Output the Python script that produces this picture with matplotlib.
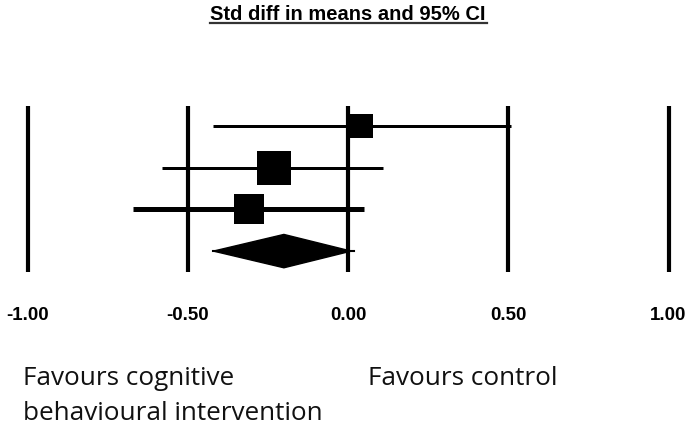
import matplotlib.pyplot as plt
import matplotlib.transforms as mtransforms
from matplotlib.patches import Polygon

# study rows (top to bottom)
estimates = [0.04, -0.23, -0.31]
ci_low = [-0.42, -0.58, -0.67]
ci_high = [0.51, 0.11, 0.05]
weights = [24, 34, 30]          # relative box size
ci_widths = [3, 3, 5]

# pooled estimate
pooled_est = -0.20
pooled_low = -0.42
pooled_high = 0.02

ticks = [-1.00, -0.50, 0.00, 0.50, 1.00]
tick_labels = ["-1.00", "-0.50", "0.00", "0.50", "1.00"]

title = "Std diff in means and 95% CI"
left_label = ["Favours cognitive", "behavioural intervention"]
right_label = "Favours control"

W, H = 691, 426
fig = plt.figure(figsize=(W / 100, H / 100), dpi=100)
ax = fig.add_axes([0, 0, 1, 1])
ax.set_xlim(-348 / 320.5, (W - 348) / 320.5)
ax.set_ylim((H - 126) / 41.7, -126 / 41.7)
ax.axis("off")

n = len(estimates)
rows = list(range(n))

# reference lines
for t in ticks:
    ax.plot([t, t], [-0.48, n + 0.5], color="black", lw=3.0, solid_capstyle="butt", zorder=1)

# confidence intervals and boxes
for i in rows:
    ax.plot([ci_low[i], ci_high[i]], [i, i], color="black", lw=ci_widths[i] * 0.72,
            solid_capstyle="butt", zorder=2)
    ax.plot(estimates[i], i, marker="s", color="black", markersize=weights[i] * 0.72,
            markeredgewidth=0, zorder=3)

# pooled diamond
yd = n
ax.plot([pooled_low, pooled_high], [yd, yd], color="black", lw=1.5, zorder=2)
diamond = Polygon([(pooled_low, yd), (pooled_est, yd - 0.4), (pooled_high - 0.01, yd),
                   (pooled_est, yd + 0.4)], closed=True, color="black", zorder=3)
ax.add_patch(diamond)

# tick labels
trans = mtransforms.blended_transform_factory(ax.transData, ax.transAxes)
for t, lab in zip(ticks, tick_labels):
    ax.text(t, 1 - 316 / H, lab, transform=trans, ha="center", va="center",
            fontsize=13.5, fontweight="bold", family=["Liberation Sans", "DejaVu Sans"])

# title with underline
fig.text(348 / W, 1 - 14 / H, title, ha="center", va="center", fontsize=14.5,
         fontweight="bold", family=["Liberation Sans", "DejaVu Sans"])
fig.add_artist(plt.Line2D([210 / W, 487 / W], [1 - 23 / H, 1 - 23 / H],
                          color="#333333", lw=1.6))

for k, line in enumerate(left_label):
    fig.text(23 / W, 1 - (385 + 35 * k) / H, line, ha="left", va="baseline", fontsize=18.8,
             family=["Open Sans", "DejaVu Sans"], color="#111111")
fig.text(368 / W, 1 - 385 / H, right_label, ha="left", va="baseline", fontsize=18.8,
         family=["Open Sans", "DejaVu Sans"], color="#111111")

fig.savefig("out.png", dpi=100)
